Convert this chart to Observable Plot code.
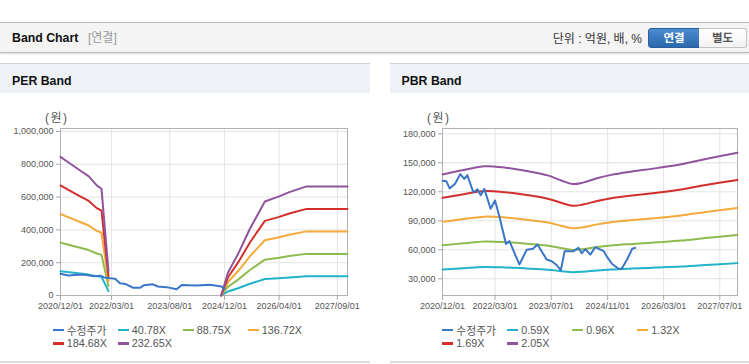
<!DOCTYPE html>
<html><head><meta charset="utf-8">
<script src="https://cdn.jsdelivr.net/npm/d3@7"></script>
<script src="https://cdn.jsdelivr.net/npm/@observablehq/plot@0.6"></script>
<style>
html,body{margin:0;padding:0;}
body{width:749px;height:364px;overflow:hidden;background:#fff;position:relative;font-family:"Liberation Sans","Noto Sans CJK KR",sans-serif;}
.a{position:absolute;}
#topbar{left:0;top:22px;width:749px;height:29px;background:#f4f4f4;border-top:1px solid #b9b9b9;border-bottom:1px solid #bcbcbc;box-shadow:0 1px 2px rgba(0,0,0,0.15);}
.ttl{font-weight:bold;font-size:12.3px;color:#111;line-height:14px;}
.sub{font-size:12px;color:#999;line-height:14px;}
.unit{font-size:12px;color:#333;line-height:14px;}
.btn{top:28px;height:18px;font-size:11.5px;font-weight:bold;line-height:18px;text-align:center;box-sizing:content-box;}
.phead{top:63px;height:29px;background:#eef2f7;border-top:1.5px solid #d3d3d3;}
.pbot{top:361px;height:2px;background:#dcdcdc;}
.ylab{font-size:12px;color:#555;line-height:14px;top:111px;letter-spacing:1.5px;}
.legend{display:grid;grid-template-columns:65px 65px 65px 65px;grid-auto-rows:13.3px;font-size:10.8px;color:#555;}
.legend div{display:flex;align-items:center;white-space:nowrap;}
.legend span.sw{display:inline-block;width:11px;height:2.5px;margin-right:3px;}
</style>
</head><body>
<div id="root"></div>
<script>
// ---------- data ----------
const headerTitle = "Band Chart";
const headerSub = "[연결]";
const unitText = "단위 : 억원, 배, %";
const buttons = ["연결", "별도"];
const panelTitles = ["PER Band", "PBR Band"];
const yUnit = "(원)";

const seriesColors = ["#3a76c8", "#22b3c9", "#8fba4e", "#f4a93a", "#d22f2c", "#8f549c"];

// PER band chart
const perLegend = ["수정주가", "40.78X", "88.75X", "136.72X", "184.68X", "232.65X"];
const perXTicks = ["2020-12-01", "2022-03-01", "2023-08-01", "2024-12-01", "2026-04-01", "2027-09-01"];
const perYTicks = [0, 200000, 400000, 600000, 800000, 1000000];
const perPriceDates = ["2020-12-01","2021-02-10","2021-05-07","2021-07-10","2021-09-10","2021-11-20","2021-12-25","2022-02-18","2022-04-01","2022-05-15","2022-07-06","2022-09-10","2022-11-10","2022-12-15","2023-03-04","2023-04-18","2023-07-04","2023-10-01","2023-11-15","2024-03-28","2024-07-22","2024-11-04","2024-12-01"];
const perPriceValues = [132000,122000,126000,127000,118000,121000,110000,105000,102000,75000,70000,47000,47000,63000,68000,55000,51000,38000,64000,61000,66000,55000,40000];
const perBandDates = ["2020-12-01","2021-02-01","2021-05-25","2021-08-10","2021-10-20","2021-12-01","2022-02-01","2023-06-01","2024-11-01","2025-01-01","2025-04-01","2025-07-15","2025-11-25","2026-04-01","2026-07-01","2026-12-01","2027-12-01"];
const perBand1 = [148100,142900,133600,127300,117600,114100,26300,null,0,24500,44500,71300,100400,105900,110400,116600,116600];
const perBand2 = [322300,310900,290700,276900,256000,248300,57200,null,0,53400,96900,155300,218600,230400,240300,253700,253700];
const perBand3 = [496600,478900,447800,426600,394300,382600,88100,null,0,82300,149300,239200,336700,354900,370200,390800,390800];
const perBand4 = [670800,647000,604900,576300,532600,516800,119100,null,0,111100,201600,323100,454900,479500,500100,527900,527900];
const perBand5 = [845000,815000,762000,726000,671000,651000,150000,null,0,140000,254000,407000,573000,604000,630000,665000,665000];

// PBR band chart
const pbrLegend = ["수정주가", "0.59X", "0.96X", "1.32X", "1.69X", "2.05X"];
const pbrXTicks = ["2020-12-01", "2022-03-01", "2023-07-01", "2024-11-01", "2026-03-01", "2027-07-01"];
const pbrYTicks = [30000, 60000, 90000, 120000, 150000, 180000];
const pbrPriceDates = ["2020-12-01","2021-01-03","2021-02-01","2021-03-20","2021-05-04","2021-06-07","2021-07-04","2021-08-25","2021-10-01","2021-10-28","2021-11-28","2022-01-22","2022-03-01","2022-04-07","2022-06-04","2022-07-04","2022-09-28","2022-12-01","2023-01-24","2023-03-04","2023-05-22","2023-07-06","2023-08-19","2023-09-22","2023-10-25","2024-01-10","2024-02-22","2024-03-22","2024-04-22","2024-06-04","2024-07-16","2024-09-28","2024-10-25","2024-12-08","2025-02-03","2025-03-03","2025-04-22","2025-06-01","2025-06-28"];
const pbrPriceValues = [131500,131000,123500,128300,138300,133400,137200,119500,122500,116500,123000,102400,111000,95000,66000,69000,44800,60000,61000,65500,50000,48200,44000,38600,58600,58600,62000,56500,60500,55000,62700,58600,53000,45500,40300,40300,50700,61000,62000];
const pbrBandDates = ["2020-12-01","2021-06-01","2021-12-01","2022-06-01","2022-12-01","2023-06-01","2023-10-01","2024-01-01","2024-04-01","2024-08-01","2024-12-01","2025-06-01","2026-01-01","2026-08-01","2027-03-01","2027-12-01"];
const pbrBand1 = [39700,41000,42200,41700,40700,39400,37800,36800,37300,38600,39600,40600,41600,42700,44300,46200];
const pbrBand2 = [64600,66700,68600,67900,66300,64200,61600,59900,60600,62800,64400,66000,67700,69500,72100,75200];
const pbrBand3 = [88900,91800,94300,93400,91100,88200,84700,82400,83400,86300,88500,90800,93000,95600,99200,103300];
const pbrBand4 = [113800,117500,120800,119500,116700,112900,108400,105500,106800,110500,113400,116200,119100,122400,127000,132300];
const pbrBand5 = [138000,142500,146500,145000,141500,137000,131500,128000,129500,134000,137500,141000,144500,148500,154000,160500];

const xStart = "2020-12-01", xEnd = "2027-12-01";

// ---------- layout ----------
const parse = d3.utcParse("%Y-%m-%d");
const root = document.getElementById("root");
function el(cls, style, text) {
  const d = document.createElement("div");
  d.className = "a " + (cls || "");
  Object.assign(d.style, style);
  if (text != null) d.textContent = text;
  root.appendChild(d);
  return d;
}
el("", {}, null).id = "topbar";
document.getElementById("topbar").className = "a";
el("ttl", {left: "12px", top: "31px"}, headerTitle);
el("sub", {left: "88px", top: "31px"}, headerSub);
el("unit", {right: "107px", top: "32px"}, unitText);
el("btn", {left: "648px", width: "50px", background: "linear-gradient(#4b8bd1,#2c68ab)", border: "1px solid #2a5f9c", borderRadius: "3px 0 0 3px", color: "#fff"}, buttons[0]);
el("btn", {left: "699px", width: "47px", background: "linear-gradient(#ffffff,#f2f2f2)", border: "1px solid #c2c2c2", borderLeft: "none", borderRadius: "0 3px 3px 0", color: "#555"}, buttons[1]);

const panels = [
  {left: 0, width: 370, title: panelTitles[0], titleX: 12},
  {left: 390, width: 359, title: panelTitles[1], titleX: 401.5}
];
panels.forEach(p => {
  el("phead", {left: p.left + "px", width: p.width + "px"});
  el("ttl", {left: p.titleX + "px", top: "73.5px"}, p.title);
  el("pbot", {left: p.left + "px", width: p.width + "px"});
});

function chart(o) {
  const xTicks = o.xTicks.map(parse);
  const lines = [];
  o.bands.forEach((vals, i) => {
    const rows = o.bandDates.map((d, j) => ({date: parse(d), v: vals[j]}));
    lines.push(Plot.line(rows, {x: "date", y: "v", stroke: seriesColors[i + 1], strokeWidth: 2, curve: o.curve}));
  });
  const prows = o.priceDates.map((d, j) => ({date: parse(d), v: o.priceValues[j]}));
  lines.push(Plot.line(prows, {x: "date", y: "v", stroke: seriesColors[0], strokeWidth: 2}));
  const svg = Plot.plot({
    width: o.width, height: 220,
    marginTop: 28, marginBottom: 25, marginLeft: o.marginLeft, marginRight: o.marginRight,
    x: {type: "utc", domain: [parse(xStart), parse(xEnd)], label: null},
    y: {domain: o.yDomain, label: null},
    style: {fontFamily: '"Liberation Sans","Noto Sans CJK KR",sans-serif', fontSize: "9px", color: "#555", background: "transparent", overflow: "visible"},
    marks: [
      Plot.gridY({ticks: o.yTicks, stroke: "#e3e3e3", strokeOpacity: 1}),
      Plot.gridX({ticks: xTicks, stroke: "#e3e3e3", strokeOpacity: 1}),
      Plot.frame({stroke: "#b2b2b2"}),
      Plot.axisY({ticks: o.yTicks, tickFormat: d3.format(","), tickSize: 4, tickPadding: 3, stroke: "#a8a8a8", fill: "#555", label: null}),
      Plot.axisX({ticks: xTicks, tickFormat: d3.utcFormat("%Y/%m/%d"), tickSize: 5, tickPadding: 2, stroke: "#a8a8a8", fill: "#555", label: null}),
      ...lines
    ]
  });
  const wrap = el("", {left: o.left + "px", top: "100px"});
  wrap.appendChild(svg);
  el("ylab", {left: o.ylabX + "px"}, yUnit);
  const lg = el("legend", {left: o.legendX + "px", top: "323.5px"});
  o.legend.forEach((t, i) => {
    const it = document.createElement("div");
    const sw = document.createElement("span");
    sw.className = "sw"; sw.style.background = seriesColors[i];
    it.appendChild(sw);
    it.appendChild(document.createTextNode(t));
    lg.appendChild(it);
  });
}

chart({left: 0, width: 370, marginLeft: 60, marginRight: 23, yDomain: [0, 1018000], yTicks: perYTicks, xTicks: perXTicks,
  bandDates: perBandDates, bands: [perBand1, perBand2, perBand3, perBand4, perBand5],
  priceDates: perPriceDates, priceValues: perPriceValues, curve: "linear", ylabX: 45, legendX: 52.7, legend: perLegend});
chart({left: 390, width: 359, marginLeft: 52, marginRight: 12, yDomain: [12700, 185500], yTicks: pbrYTicks, xTicks: pbrXTicks,
  bandDates: pbrBandDates, bands: [pbrBand1, pbrBand2, pbrBand3, pbrBand4, pbrBand5],
  priceDates: pbrPriceDates, priceValues: pbrPriceValues, curve: "catmull-rom", ylabX: 427, legendX: 442.3, legend: pbrLegend});
</script>
</body></html>
